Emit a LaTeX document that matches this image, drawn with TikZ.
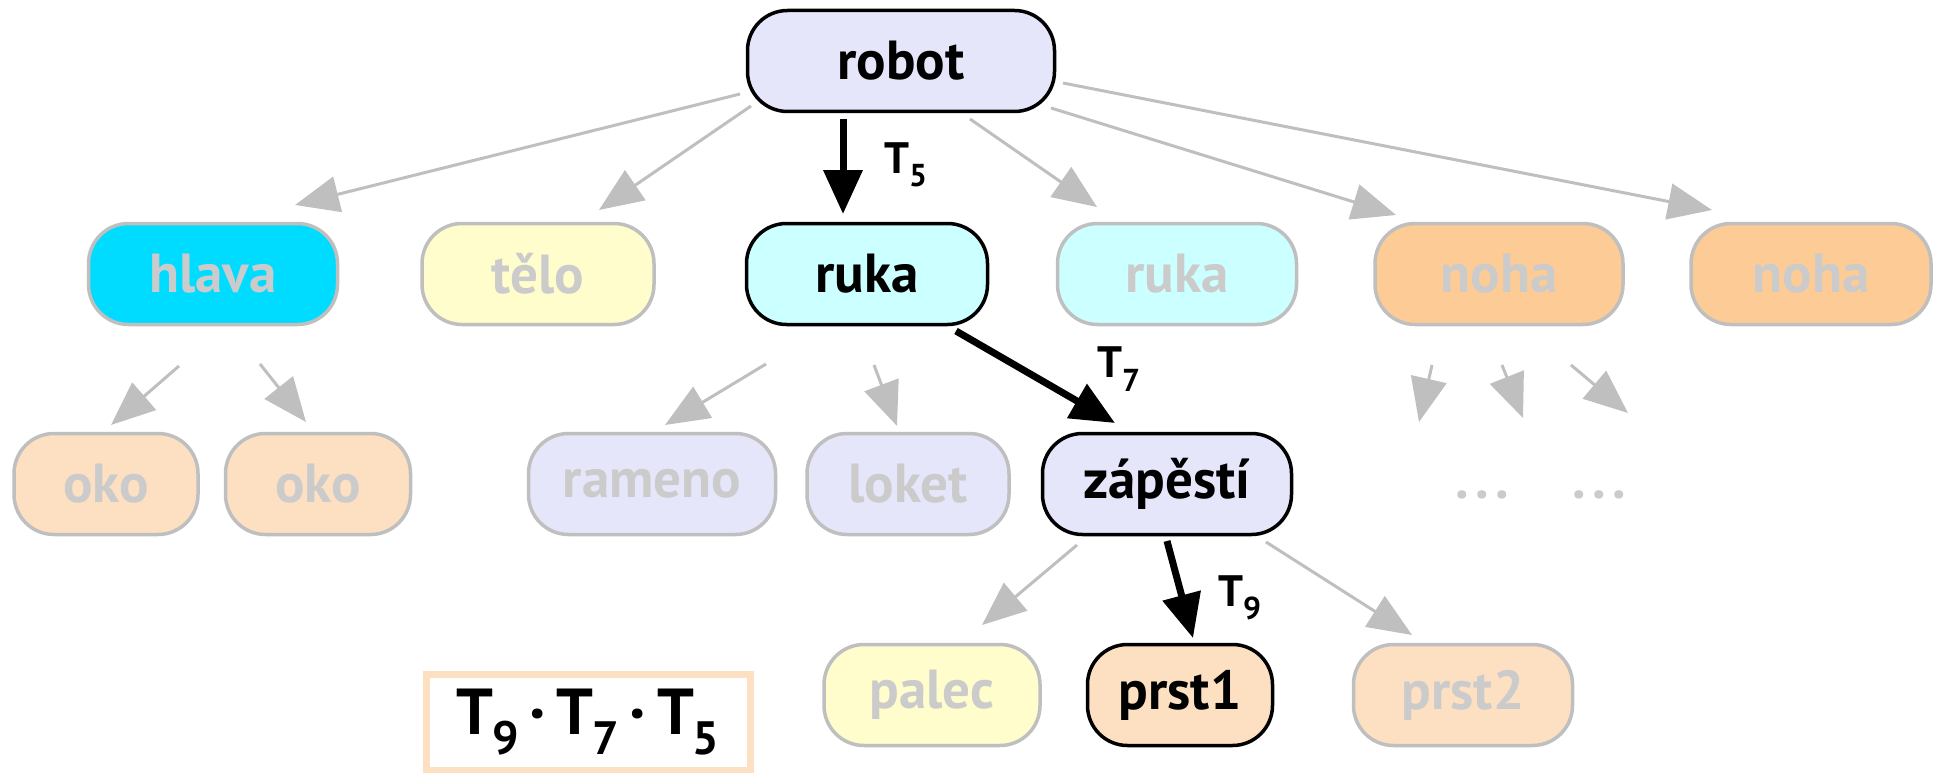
\documentclass[tikz,border=0pt]{standalone}
\usepackage{fontspec}
\setmainfont{PT Sans}
\usetikzlibrary{arrows.meta}

\definecolor{lavender}{HTML}{E6E6FA}
\definecolor{brightcyan}{HTML}{00DCFF}
\definecolor{paleyellow}{HTML}{FFFDCC}
\definecolor{palecyan}{HTML}{CCFFFF}
\definecolor{peach}{HTML}{FDCB96}
\definecolor{bisque}{HTML}{FDE0C2}
\definecolor{linegray}{HTML}{BFBFBF}
\definecolor{textgray}{HTML}{CBCBCB}

% transformation label: T with a lowered index
\newcommand{\Tsub}[1]{T\kern-0.02em\raisebox{-0.3em}{\scalebox{0.72}{#1}}}

\tikzset{
  partbox/.style={rounded corners=40pt, minimum height=101pt, line width=3.5pt,
    inner sep=0pt, font=\fontsize{55}{60}\selectfont\bfseries},
  dimbox/.style={partbox, draw=linegray, text=textgray},
  hibox/.style={partbox, draw=black, text=black},
  dimarrow/.style={draw=linegray, line width=3pt, -{Triangle[length=44pt,width=36pt]}},
  hiarrow/.style={draw=black, line width=7pt, -{Triangle[length=44pt,width=38pt]}},
  tlabel/.style={font=\fontsize{44}{48}\selectfont\bfseries, inner sep=0pt},
  dots/.style={text=textgray, font=\fontsize{55}{60}\selectfont\bfseries, inner sep=0pt}
}

\begin{document}
\begin{tikzpicture}[x=1pt,y=-1pt]
\useasboundingbox (0,0) rectangle (1941,773);

% tree nodes
\node[hibox, fill=lavender, minimum width=307pt] (robot) at (901,61) {robot};

\node[dimbox, fill=brightcyan, minimum width=249pt] (hlava) at (213,274) {hlava};
\node[dimbox, fill=paleyellow, minimum width=232pt] (telo) at (538,274) {tělo};
\node[hibox, fill=palecyan, minimum width=241pt] (ruka) at (867,274) {ruka};
\node[dimbox, fill=palecyan, minimum width=239pt] (ruka2) at (1177,274) {ruka};
\node[dimbox, fill=peach, minimum width=248pt] (noha1) at (1499,274) {noha};
\node[dimbox, fill=peach, minimum width=240pt] (noha2) at (1811,274) {noha};

\node[dimbox, fill=bisque, minimum width=184pt] (oko1) at (106,484) {oko};
\node[dimbox, fill=bisque, minimum width=185pt] (oko2) at (318,484) {oko};
\node[dimbox, fill=lavender, minimum width=247pt] (rameno) at (652,484) {rameno};
\node[dimbox, fill=lavender, minimum width=202pt] (loket) at (908,484) {loket};
\node[hibox, fill=lavender, minimum width=249pt] (zapesti) at (1167,484) {zápěstí};

\node[dimbox, fill=paleyellow, minimum width=216pt] (palec) at (932,695) {palec};
\node[hibox, fill=bisque, minimum width=185pt] (prst1) at (1180,695) {prst1};
\node[dimbox, fill=bisque, minimum width=219pt] (prst2) at (1463,695) {prst2};

\node[dots] (dotsA) at (1482,495) {.\kern0.12em.\kern0.12em.};
\node[dots] (dotsB) at (1599,495) {.\kern0.12em.\kern0.12em.};

% open ends below the leg
\coordinate (legA) at (1419,422);
\coordinate (legB) at (1523,418);
\coordinate (legC) at (1628,413);

% grey edges
\draw[dimarrow] ([shift={(-161,33)}]robot.center) -- ([shift={(82,-69)}]hlava.center);
\draw[dimarrow] ([shift={(-150,45)}]robot.center) -- ([shift={(61,-64)}]telo.center);
\draw[dimarrow] ([shift={(69,58)}]robot.center) -- ([shift={(-80,-67)}]ruka2.center);
\draw[dimarrow] ([shift={(150,47)}]robot.center) -- ([shift={(-103,-59)}]noha1.center);
\draw[dimarrow] ([shift={(162,22)}]robot.center) -- ([shift={(-99,-64)}]noha2.center);

\draw[dimarrow] ([shift={(-34,92)}]hlava.center) -- ([shift={(5,-59)}]oko1.center);
\draw[dimarrow] ([shift={(47,90)}]hlava.center) -- ([shift={(-12,-62)}]oko2.center);

\draw[dimarrow] ([shift={(-101,90)}]ruka.center) -- ([shift={(13,-59)}]rameno.center);
\draw[dimarrow] ([shift={(7,91)}]ruka.center) -- ([shift={(-11,-58)}]loket.center);

\draw[dimarrow] ([shift={(-67,91)}]noha1.center) -- (legA);
\draw[dimarrow] ([shift={(3,91)}]noha1.center) -- (legB);
\draw[dimarrow] ([shift={(72,91)}]noha1.center) -- (legC);

\draw[dimarrow] ([shift={(-90,61)}]zapesti.center) -- ([shift={(50,-70)}]palec.center);
\draw[dimarrow] ([shift={(99,58)}]zapesti.center) -- ([shift={(-51,-60)}]prst2.center);

% highlighted path robot -> ruka -> zapesti -> prst1
\draw[hiarrow] ([shift={(-58,58)}]robot.center) -- ([shift={(-24,-60)}]ruka.center);
\draw[hiarrow] ([shift={(89,57)}]ruka.center) -- ([shift={(-52,-61)}]zapesti.center);
\draw[hiarrow] ([shift={(0,57)}]zapesti.center) -- ([shift={(13,-57)}]prst1.center);

\node[tlabel] (t5) at (906,165) {\Tsub{5}};
\node[tlabel] (t7) at (1119,369) {\Tsub{7}};
\node[tlabel] (t9) at (1240,598) {\Tsub{9}};

% composed transformation
\node[draw=bisque, line width=7pt, minimum width=324pt, minimum height=96pt,
  inner sep=0pt, font=\fontsize{65}{70}\selectfont\bfseries] (product) at (588,722)
  {\Tsub{9}\,·\,\Tsub{7}\,·\,\Tsub{5}};
\end{tikzpicture}
\end{document}
